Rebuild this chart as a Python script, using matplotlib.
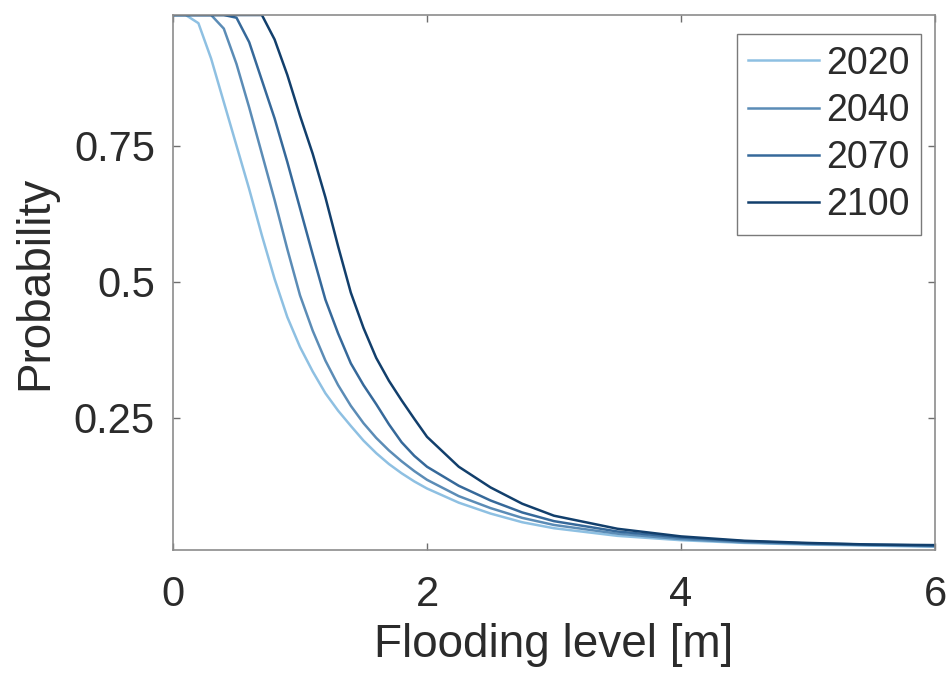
import numpy as np
import matplotlib
matplotlib.use("Agg")
import matplotlib.pyplot as plt

plt.rcParams['font.family'] = ['Liberation Sans', 'DejaVu Sans']

# flooding level grid [m]
flood_level = [0.0, 0.1, 0.2, 0.3, 0.4, 0.5, 0.6, 0.7, 0.8, 0.9, 1.0,
               1.1, 1.2, 1.3, 1.4, 1.5, 1.6, 1.7, 1.8, 1.9, 2.0,
               2.25, 2.5, 2.75, 3.0, 3.5, 4.0, 4.5, 5.0, 5.5, 6.0]

# exceedance probability per scenario year
p_2020 = [0.99, 0.99, 0.975, 0.91, 0.83, 0.75, 0.67, 0.585, 0.505, 0.435, 0.38,
          0.335, 0.295, 0.263, 0.235, 0.208, 0.185, 0.165, 0.148, 0.133, 0.12,
          0.094, 0.074, 0.058, 0.047, 0.033, 0.025, 0.02, 0.017, 0.015, 0.013]
p_2040 = [0.99, 0.99, 0.99, 0.99, 0.965, 0.9, 0.82, 0.735, 0.65, 0.56, 0.475,
          0.41, 0.355, 0.31, 0.272, 0.24, 0.213, 0.19, 0.17, 0.152, 0.136,
          0.106, 0.084, 0.066, 0.053, 0.037, 0.027, 0.021, 0.018, 0.016, 0.014]
p_2070 = [0.99, 0.99, 0.99, 0.99, 0.99, 0.985, 0.94, 0.87, 0.8, 0.72, 0.635,
          0.55, 0.467, 0.405, 0.35, 0.31, 0.275, 0.238, 0.205, 0.18, 0.16,
          0.125, 0.098, 0.076, 0.06, 0.041, 0.03, 0.023, 0.019, 0.017, 0.015]
p_2100 = [0.99, 0.99, 0.99, 0.99, 0.99, 0.99, 0.99, 0.99, 0.945, 0.88, 0.805,
          0.735, 0.655, 0.565, 0.48, 0.415, 0.36, 0.318, 0.282, 0.248, 0.215,
          0.16, 0.122, 0.092, 0.07, 0.046, 0.032, 0.024, 0.02, 0.017, 0.016]

years = ['2020', '2040', '2070', '2100']
series = [p_2020, p_2040, p_2070, p_2100]
colors = ['#8ec0e2', '#5b8cb6', '#36699a', '#123f6c']

x_ticks = [0, 2, 4, 6]
y_ticks = [0.25, 0.5, 0.75]
y_tick_labels = ['0.25', '0.5', '0.75']

text_col = '#2b2b2b'

fig = plt.figure(figsize=(9.51, 6.73), dpi=100)
ax = fig.add_axes([173 / 951, 1 - 550 / 673, 762 / 951, 535 / 673])

for yr, p, c in zip(years, series, colors):
    ax.plot(flood_level, p, color=c, lw=1.8, label=yr)

ax.set_xlim(0, 6)
ax.set_ylim(0.007, 0.99)
ax.set_xticks(x_ticks)
ax.set_yticks(y_ticks)
ax.set_yticklabels(y_tick_labels)

for s in ax.spines.values():
    s.set_color('#8c8c8c')
    s.set_linewidth(1.2)

ax.tick_params(axis='both', direction='in', length=5, width=1, color='#6e6e6e',
               top=True, right=True, labelsize=30, labelcolor=text_col)
ax.tick_params(axis='x', pad=18)
ax.tick_params(axis='y', pad=13)

ax.set_xlabel('Flooding level [m]', fontsize=33, color=text_col, labelpad=6)
ax.set_ylabel('Probability', fontsize=33, color=text_col, labelpad=12)

leg = ax.legend(loc='upper right', bbox_to_anchor=(0.981, 0.964), borderaxespad=0,
                fontsize=27, handlelength=1.9, handletextpad=0.18, labelspacing=0.3,
                borderpad=0.3, fancybox=False, framealpha=1)
leg.get_frame().set_edgecolor('#7a7a7a')
leg.get_frame().set_linewidth(1.0)
for t in leg.get_texts():
    t.set_color(text_col)

fig.savefig('out.png', dpi=100)
